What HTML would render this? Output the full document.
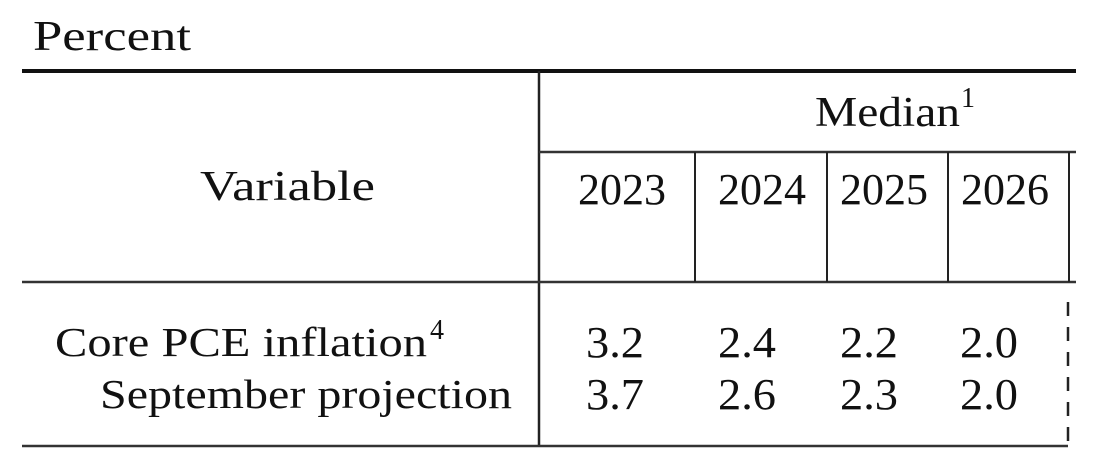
<!DOCTYPE html>
<html><head><style>html,body{margin:0;padding:0;background:#fff}svg{display:block}</style></head>
<body>
<svg width="1098" height="465" viewBox="0 0 1098 465" xmlns="http://www.w3.org/2000/svg" font-family="'Liberation Serif', serif" fill="#111">
<rect width="1098" height="465" fill="#fff"/>
<text x="33" y="50" font-size="42" textLength="158" lengthAdjust="spacingAndGlyphs">Percent</text>
<line x1="22" y1="71" x2="1076" y2="71" stroke="#111" stroke-width="4"/>
<line x1="539" y1="71" x2="539" y2="447" stroke="#222" stroke-width="2.5"/>
<line x1="539" y1="152" x2="1076" y2="152" stroke="#333" stroke-width="2.5"/>
<line x1="22" y1="282" x2="1076" y2="282" stroke="#333" stroke-width="2.5"/>
<line x1="22" y1="446" x2="1068" y2="446" stroke="#333" stroke-width="2.5"/>
<line x1="695" y1="152" x2="695" y2="282" stroke="#222" stroke-width="2"/>
<line x1="827" y1="152" x2="827" y2="282" stroke="#222" stroke-width="2"/>
<line x1="948" y1="152" x2="948" y2="282" stroke="#222" stroke-width="2"/>
<line x1="1069" y1="152" x2="1069" y2="282" stroke="#222" stroke-width="2"/>
<line x1="1068" y1="302" x2="1068" y2="446" stroke="#222" stroke-width="2.5" stroke-dasharray="14,11"/>
<text x="815" y="126" font-size="42" textLength="145" lengthAdjust="spacingAndGlyphs">Median</text>
<text x="961" y="107" font-size="28">1</text>
<text x="200" y="200" font-size="42" textLength="175" lengthAdjust="spacingAndGlyphs">Variable</text>
<g font-size="44">
<text x="578" y="204" textLength="88" lengthAdjust="spacingAndGlyphs">2023</text>
<text x="718" y="204" textLength="88" lengthAdjust="spacingAndGlyphs">2024</text>
<text x="840" y="204" textLength="88" lengthAdjust="spacingAndGlyphs">2025</text>
<text x="961" y="204" textLength="88" lengthAdjust="spacingAndGlyphs">2026</text>
<text x="586" y="357" textLength="58" lengthAdjust="spacingAndGlyphs">3.2</text>
<text x="718" y="357" textLength="58" lengthAdjust="spacingAndGlyphs">2.4</text>
<text x="840" y="357" textLength="58" lengthAdjust="spacingAndGlyphs">2.2</text>
<text x="960" y="357" textLength="58" lengthAdjust="spacingAndGlyphs">2.0</text>
<text x="586" y="409" textLength="58" lengthAdjust="spacingAndGlyphs">3.7</text>
<text x="718" y="409" textLength="58" lengthAdjust="spacingAndGlyphs">2.6</text>
<text x="840" y="409" textLength="58" lengthAdjust="spacingAndGlyphs">2.3</text>
<text x="960" y="409" textLength="58" lengthAdjust="spacingAndGlyphs">2.0</text>
</g>
<g font-size="41">
<text x="55" y="356" textLength="372" lengthAdjust="spacingAndGlyphs">Core PCE inflation</text>
<text x="100" y="408" textLength="412" lengthAdjust="spacingAndGlyphs">September projection</text>
</g>
<text x="430" y="339" font-size="28">4</text>
</svg>
</body></html>
